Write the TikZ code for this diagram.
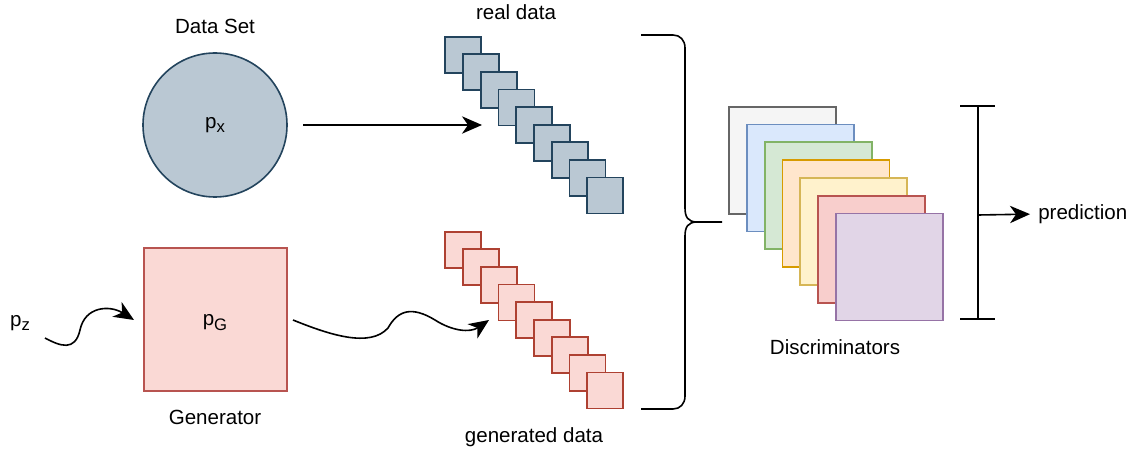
\documentclass[tikz,border=0pt]{standalone}
\usepackage{fontspec}
\setmainfont{Liberation Sans}
\usetikzlibrary{arrows.meta}
\definecolor{realfill}{HTML}{BAC8D3}
\definecolor{realdraw}{HTML}{23445D}
\definecolor{genfill}{HTML}{FAD9D5}
\definecolor{gendraw}{HTML}{AE4132}
\definecolor{gfill}{HTML}{F5F5F5}\definecolor{gdraw}{HTML}{666666}
\definecolor{bfill}{HTML}{DAE8FC}\definecolor{bdraw}{HTML}{6C8EBF}
\definecolor{grfill}{HTML}{D5E8D4}\definecolor{grdraw}{HTML}{82B366}
\definecolor{ofill}{HTML}{FFE6CC}\definecolor{odraw}{HTML}{D79B00}
\definecolor{yfill}{HTML}{FFF2CC}\definecolor{ydraw}{HTML}{D6B656}
\definecolor{rfill}{HTML}{F8CECC}\definecolor{rdraw}{HTML}{B85450}
\definecolor{pfill}{HTML}{E1D5E7}\definecolor{pdraw}{HTML}{9673A6}
\newcommand\subs[1]{\raisebox{-0.45ex}{\fontsize{12.5}{13}\selectfont #1}}
\tikzset{
  lbl/.style={font=\fontsize{15.4}{18}\selectfont, inner sep=0pt},
  realsq/.style={draw=realdraw, fill=realfill, line width=1.4pt, minimum size=27pt, inner sep=0pt},
  gensq/.style={draw=gendraw, fill=genfill, line width=1.4pt, minimum size=27pt, inner sep=0pt},
  discsq/.style={line width=1.3pt, minimum size=80.25pt, inner sep=0pt},
  conn/.style={line width=1.2pt, -{Stealth[length=15pt, width=13pt, inset=4.5pt]}},
  plain/.style={line width=1.2pt}
}
\begin{document}
\begin{tikzpicture}[x=0.75pt, y=-0.75pt]
\useasboundingbox (0,0) rectangle (1137,452);
% data set
\node[lbl] (dslabel) at (215,26) {Data Set};
\node[circle, draw=realdraw, fill=realfill, line width=1.2pt, minimum size=108pt, inner sep=0pt] (px) at (215,125) {};
\node[lbl] (pxlabel) at (215,125) {p\subs{x}};
% generator
\node[draw=rdraw, fill=genfill, line width=1.2pt, minimum size=107.25pt, inner sep=0pt] (gen) at (215.5,319.5) {};
\node[lbl] (pglabel) at (215,323) {p\subs{G}};
\node[lbl] (genlabel) at (215,417) {Generator};
\node[lbl] (pz) at (20,323) {p\subs{z}};
% real data squares
\foreach \i in {0,...,8} {
  \node[realsq] (r\i) at ({463.3+17.75*\i},{54.7+17.6*\i}) {};
}
\node[lbl] (reallabel) at (516,12) {real data};
% generated data squares
\foreach \i in {0,...,8} {
  \node[gensq] (g\i) at ({463.3+17.75*\i},{249.7+17.6*\i}) {};
}
\node[lbl] (genlbl) at (534,437) {generated data};
% discriminators
\foreach \i/\f/\d in {0/gfill/gdraw,1/bfill/bdraw,2/grfill/grdraw,3/ofill/odraw,4/yfill/ydraw,5/rfill/rdraw,6/pfill/pdraw} {
  \node[discsq, fill=\f, draw=\d] (d\i) at ({782.8+17.75*\i},{160.2+17.8*\i}) {};
}
\node[lbl] (disclabel) at (835,347) {Discriminators};
% arrows
\coordinate (a1s) at (303,125);
\coordinate (a1e) at (482,125);
\draw[conn] (a1s) -- (a1e);
\coordinate (w1s) at (45,338);
\coordinate (w1e) at (134,320);
\draw[conn] (w1s) .. controls (60,346) and (75,352) .. (80,330) .. controls (85,306) and (110,305) .. (w1e);
\coordinate (w2s) at (293,320);
\coordinate (w2e) at (489,320);
\draw[conn] (w2s) .. controls (330,335) and (370,348) .. (388,328) .. controls (398,310) and (412,306) .. (435,320) .. controls (452,331) and (470,333) .. (w2e);
% brace
\coordinate (bt) at (641,35);
\coordinate (bb) at (641,409);
\coordinate (tip) at (697,222);
\coordinate (tipe) at (722,222);
\draw[plain] (bt) -- (673,35) .. controls (680,35) and (685,40) .. (685,48) -- (685,208) .. controls (685,217) and (688,222) .. (tip) -- (tipe);
\draw[plain] (tip) .. controls (688,222) and (685,227) .. (685,236) -- (685,396) .. controls (685,404) and (680,409) .. (673,409) -- (bb);
% I-beam and prediction
\coordinate (it) at (978,106);
\coordinate (ib) at (978,319);
\coordinate (im) at (978,215);
\draw[plain] (960,106) -- (995,106);
\draw[plain] (960,319) -- (995,319);
\draw[plain] (it) -- (ib);
\node[lbl, anchor=west] (pred) at (1038,214) {prediction};
\draw[conn, shorten >=6pt] (im) -- (pred.west);
\end{tikzpicture}
\end{document}
